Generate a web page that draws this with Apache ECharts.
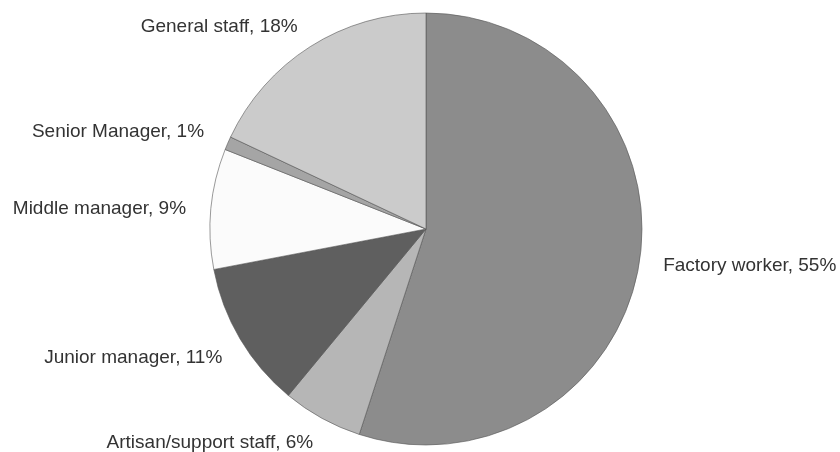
<!DOCTYPE html>
<html>
<head>
<meta charset="utf-8">
<script src="https://cdn.jsdelivr.net/npm/echarts@6/dist/echarts.min.js"></script>
<style>
html,body{margin:0;padding:0;background:#fff;}
#chart{width:840px;height:452px;}
</style>
</head>
<body>
<div id="chart"></div>
<script>
const categories = ["Factory worker", "Artisan/support staff", "Junior manager", "Middle manager", "Senior Manager", "General staff"];
const values = [55, 6, 11, 9, 1, 18];
const colors = ["#8c8c8c", "#b6b6b6", "#5f5f5f", "#fbfbfb", "#a5a5a5", "#cbcbcb"];
// small label nudges (style only)
const labelNudge = [[3, 0], [4, 10], [1, 11], [-4, 2], [-4, -5], [1, -6]];

const chart = echarts.init(document.getElementById('chart'), null, {renderer: 'canvas'});
chart.setOption({
  backgroundColor: '#ffffff',
  animation: false,
  series: [{
    type: 'pie',
    center: [426, 229],
    radius: 216,
    startAngle: 90,
    clockwise: true,
    avoidLabelOverlap: false,
    percentPrecision: 0,
    data: categories.map((c, i) => ({name: c, value: values[i], itemStyle: {color: colors[i]}})),
    itemStyle: {borderColor: '#555555', borderWidth: 0.6},
    label: {
      show: true,
      position: 'outside',
      formatter: '{b}, {d}%',
      fontFamily: 'Liberation Sans, Arial, sans-serif',
      fontSize: 19,
      color: '#333333'
    },
    labelLine: {show: false, length: 16, length2: 0},
    labelLayout: function (p) {
      const n = labelNudge[p.dataIndex] || [0, 0];
      return {dx: n[0], dy: n[1]};
    },
    emphasis: {disabled: true}
  }]
});
</script>
</body>
</html>
